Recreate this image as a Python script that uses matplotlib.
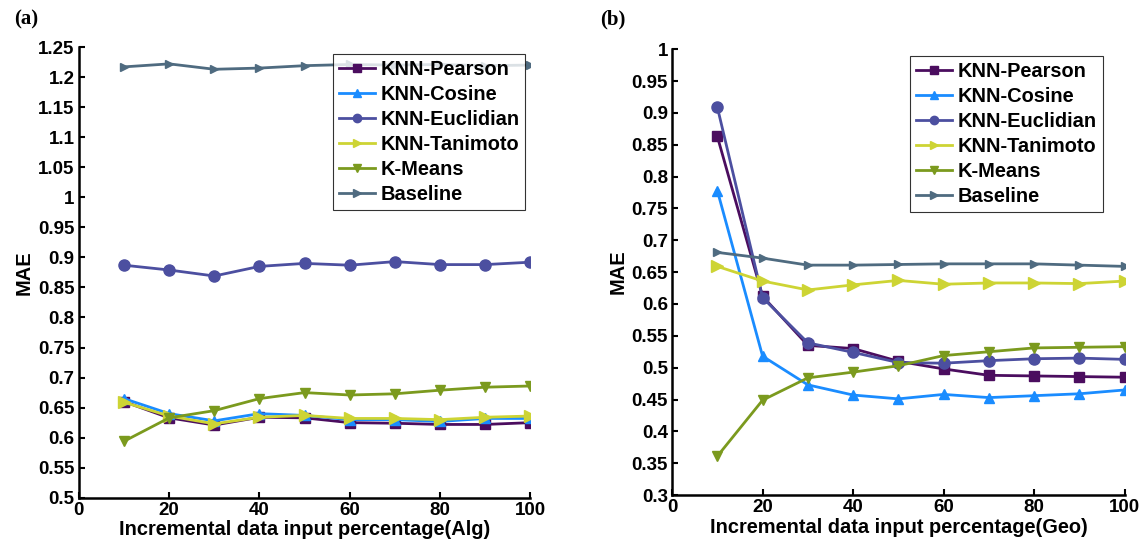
import numpy as np
import matplotlib
matplotlib.use("Agg")
import matplotlib.pyplot as plt
from matplotlib.ticker import FuncFormatter

plt.rcParams['font.family'] = ['Liberation Sans', 'DejaVu Sans']
plt.rcParams['font.weight'] = 'bold'

x = [10, 20, 30, 40, 50, 60, 70, 80, 90, 100]
names = ["KNN-Pearson", "KNN-Cosine", "KNN-Euclidian", "KNN-Tanimoto", "K-Means", "Baseline"]

# panel (a) - Alg
alg_pearson = [0.660, 0.633, 0.621, 0.634, 0.633, 0.625, 0.624, 0.622, 0.622, 0.625]
alg_cosine = [0.665, 0.640, 0.628, 0.640, 0.637, 0.630, 0.630, 0.627, 0.632, 0.632]
alg_euclid = [0.887, 0.879, 0.869, 0.885, 0.890, 0.887, 0.893, 0.888, 0.888, 0.892]
alg_tanimoto = [0.659, 0.636, 0.623, 0.634, 0.637, 0.632, 0.632, 0.630, 0.634, 0.636]
alg_kmeans = [0.594, 0.633, 0.645, 0.665, 0.675, 0.671, 0.673, 0.679, 0.684, 0.686]
alg_baseline = [1.217, 1.222, 1.213, 1.215, 1.219, 1.221, 1.220, 1.221, 1.219, 1.220]

# panel (b) - Geo
geo_pearson = [0.863, 0.612, 0.535, 0.530, 0.510, 0.498, 0.488, 0.487, 0.486, 0.485]
geo_cosine = [0.778, 0.518, 0.473, 0.457, 0.451, 0.458, 0.453, 0.456, 0.459, 0.465]
geo_euclid = [0.909, 0.610, 0.539, 0.524, 0.508, 0.507, 0.511, 0.514, 0.515, 0.513]
geo_tanimoto = [0.659, 0.636, 0.622, 0.630, 0.637, 0.631, 0.633, 0.633, 0.632, 0.636]
geo_kmeans = [0.361, 0.449, 0.484, 0.493, 0.503, 0.519, 0.525, 0.531, 0.532, 0.533]
geo_baseline = [0.681, 0.672, 0.661, 0.661, 0.662, 0.663, 0.663, 0.663, 0.661, 0.659]

colors = ["#4b0d5f", "#1a8cff", "#4c4fa0", "#cdd434", "#7b9a1e", "#4f6b80"]
markers = ["s", "^", "o", ">", "v", ">"]
msizes = [7, 7, 8, 8, 7, 6]


def draw(ax, series, ylim, yticks, xlabel, legend_anchor):
    for vals, name, c, m, ms in zip(series, names, colors, markers, msizes):
        ax.plot(x, vals, color=c, marker=m, markersize=ms, linewidth=2, label=name)
    ax.set_xlim(0, 100)
    ax.set_ylim(*ylim)
    ax.set_xticks([0, 20, 40, 60, 80, 100])
    ax.set_yticks(yticks)
    ax.yaxis.set_major_formatter(FuncFormatter(lambda v, p: "%g" % round(v, 2)))
    for s in ["top", "right"]:
        ax.spines[s].set_visible(False)
    for s in ["left", "bottom"]:
        ax.spines[s].set_linewidth(1.8)
    ax.tick_params(direction="in", length=4, width=1.5, labelsize=13.5, pad=3)
    ax.set_xlabel(xlabel, fontsize=14.4, fontweight="bold", labelpad=1)
    ax.set_ylabel("MAE", fontsize=14.4, fontweight="bold", labelpad=3)
    leg = ax.legend(loc="upper right", bbox_to_anchor=legend_anchor, fontsize=14.4,
                    frameon=True, fancybox=False, handlelength=1.8, handletextpad=0.25,
                    borderpad=0.3, labelspacing=0.3, borderaxespad=0)
    leg.get_frame().set_edgecolor("black")
    leg.get_frame().set_linewidth(0.8)
    for h in leg.get_lines():
        h.set_markersize(6)


fig = plt.figure(figsize=(11.43, 5.47), dpi=100)
ax1 = fig.add_axes([0.069, 0.090, 0.395, 0.824])
ax2 = fig.add_axes([0.588, 0.095, 0.396, 0.815])

draw(ax1, [alg_pearson, alg_cosine, alg_euclid, alg_tanimoto, alg_kmeans, alg_baseline],
     (0.5, 1.25), np.arange(0.5, 1.2501, 0.05), "Incremental data input percentage(Alg)",
     (0.989, 0.985))
draw(ax2, [geo_pearson, geo_cosine, geo_euclid, geo_tanimoto, geo_kmeans, geo_baseline],
     (0.3, 1.0), np.arange(0.3, 1.0001, 0.05), "Incremental data input percentage(Geo)",
     (0.951, 0.985))

fig.text(0.012, 0.965, "(a)", fontsize=15, fontweight="bold", family="Liberation Serif", va="center")
fig.text(0.525, 0.965, "(b)", fontsize=15, fontweight="bold", family="Liberation Serif", va="center")

fig.savefig("out.png", dpi=100)
